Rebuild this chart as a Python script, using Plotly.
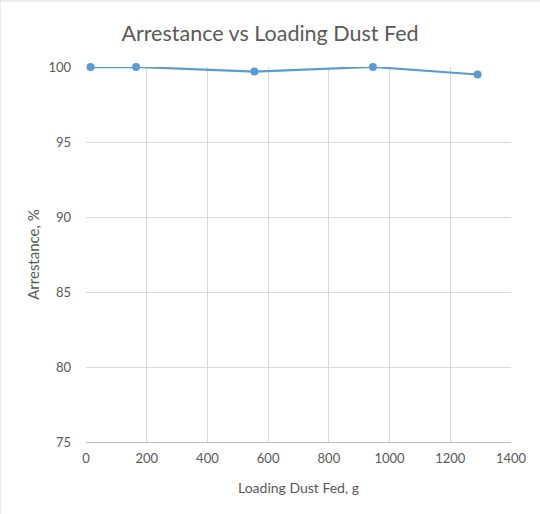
import plotly.graph_objects as go

dust_fed_g = [15, 165, 555, 945, 1290]
arrestance_pct = [100.0, 100.0, 99.7, 100.0, 99.5]

x_ticks = [0, 200, 400, 600, 800, 1000, 1200, 1400]
y_ticks = [75, 80, 85, 90, 95, 100]

FONT = "Lato, 'Open Sans', sans-serif"
GREY = "#595959"

fig = go.Figure()
fig.add_trace(go.Scatter(
    x=dust_fed_g, y=arrestance_pct, mode="lines+markers",
    line=dict(color="#5B9BD5", width=2.25),
    marker=dict(color="#5B9BD5", size=8),
    cliponaxis=False, showlegend=False,
))

fig.update_layout(
    width=540, height=514,
    margin=dict(l=86, r=29, t=67, b=72),
    paper_bgcolor="white", plot_bgcolor="white",
    font=dict(family=FONT, color=GREY, size=13),
    title=dict(text="Arrestance vs Loading Dust Fed", x=0.5, xref="container",
               y=1 - 33 / 514, yanchor="middle",
               font=dict(family=FONT, size=21.5, color=GREY)),
    xaxis=dict(range=[0, 1400], tickvals=x_ticks, ticktext=[str(v) for v in x_ticks],
               showgrid=True, gridcolor="#d9d9d9", gridwidth=1,
               showline=True, linecolor="#bfbfbf", linewidth=1,
               zeroline=False, ticks="", ticklabelstandoff=4,
               tickfont=dict(size=13),
               title=dict(text="Loading Dust Fed, g", standoff=18,
                          font=dict(family=FONT, size=14, color=GREY))),
    yaxis=dict(range=[75, 100], tickvals=y_ticks, ticktext=[str(v) for v in y_ticks],
               showgrid=True, gridcolor="#d9d9d9", gridwidth=1,
               zeroline=False, ticks="", ticklabelstandoff=14,
               tickfont=dict(size=13),
               title=dict(text="Arrestance, %", standoff=5,
                          font=dict(family=FONT, size=15, color=GREY))),
    shapes=[
        dict(type="line", xref="paper", yref="paper", x0=-86/425, x1=-86/425, y0=-72/375, y1=1+67/375,
             line=dict(color="#d9d9d9", width=1)),
        dict(type="line", xref="paper", yref="paper", x0=-86/425, x1=1+29/425, y0=1+66/375, y1=1+66/375,
             line=dict(color="#d9d9d9", width=1)),
    ],
)

fig.write_html("out.html")
